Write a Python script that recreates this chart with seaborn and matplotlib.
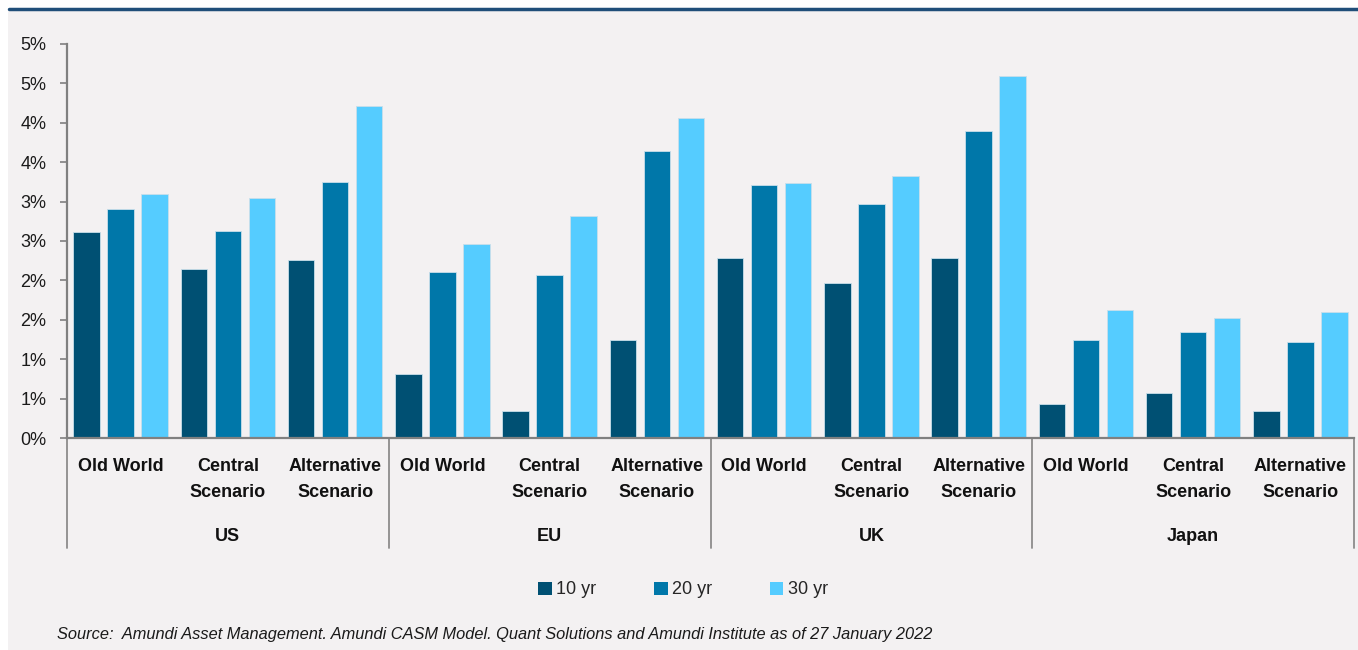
import numpy as np
import pandas as pd
import matplotlib
matplotlib.use("Agg")
import matplotlib.pyplot as plt
import seaborn as sns
from matplotlib.patches import Rectangle
from matplotlib.lines import Line2D

# Data (% per year)
countries = ["US", "EU", "UK", "Japan"]
scenarios = ["Old World", "Central\nScenario", "Alternative\nScenario"]
horizons = ["10 yr", "20 yr", "30 yr"]

yr10 = [2.61, 2.14, 2.26, 0.82, 0.34, 1.24, 2.29, 1.97, 2.28, 0.43, 0.57, 0.35]
yr20 = [2.90, 2.63, 3.25, 2.11, 2.07, 3.64, 3.21, 2.97, 3.89, 1.24, 1.35, 1.22]
yr30 = [3.10, 3.05, 4.21, 2.46, 2.82, 4.06, 3.24, 3.32, 4.59, 1.63, 1.52, 1.60]

ytick_vals = [0, 0.5, 1.0, 1.5, 2.0, 2.5, 3.0, 3.5, 4.0, 4.5, 5.0]
ytick_labels = ["0%", "1%", "1%", "2%", "2%", "3%", "3%", "4%", "4%", "5%", "5%"]

colors = ["#005073", "#0077A9", "#55CCFF"]
bg = "#F3F1F2"

# Build long table
slots = [f"{c}|{s}" for c in countries for s in scenarios]
rows = []
for h, vals in zip(horizons, [yr10, yr20, yr30]):
    for slot, v in zip(slots, vals):
        rows.append({"slot": slot, "horizon": h, "value": v})
df = pd.DataFrame(rows)

sns.set_style("white")
plt.rcParams["font.family"] = ["Liberation Sans", "DejaVu Sans"]

fig = plt.figure(figsize=(13.58, 6.5), dpi=100)
fig.patch.set_facecolor("white")

# grey panel + top rule
fig.patches.append(Rectangle((8 / 1358, 0), 1, 1 - 10 / 650, transform=fig.transFigure,
                             facecolor=bg, edgecolor="none", zorder=-10))
fig.add_artist(Line2D([9 / 1358, 1], [1 - 9 / 650, 1 - 9 / 650], transform=fig.transFigure,
                      color="#1F4E79", lw=2.5))

ax = fig.add_axes([67 / 1358, 1 - 438.3 / 650, (1354 - 67) / 1358, 394.6 / 650])
ax.set_facecolor(bg)

sns.barplot(data=df, x="slot", y="value", hue="horizon", order=slots,
            hue_order=horizons, palette=colors, saturation=1, width=0.95, gap=0.22,
            edgecolor="#C9DFEA", linewidth=0.6, ax=ax, legend=False)

ax.set_xlim(-0.5, len(slots) - 0.5)
ax.set_ylim(0, 5)
ax.set_yticks(ytick_vals)
ax.set_yticklabels(ytick_labels, fontsize=13, color="#1a1a1a")
ax.set_xticks([])
ax.set_xlabel("")
ax.set_ylabel("")
ax.tick_params(axis="y", length=5, width=1.2, color="#808080", pad=10, left=True)

for side in ["top", "right"]:
    ax.spines[side].set_visible(False)
for side in ["left", "bottom"]:
    ax.spines[side].set_color("#808080")
    ax.spines[side].set_linewidth(1.6)

# group separators below the axis
n = len(scenarios)
for i in range(len(countries) + 1):
    ax.axvline(i * n - 0.5, ymin=-0.278, ymax=0, clip_on=False, color="#8C8C8C", lw=1.3)

# category and country labels
for i, slot in enumerate(slots):
    scen = slot.split("|")[1]
    ax.text(i, -0.051, scen, transform=ax.get_xaxis_transform(), ha="center", va="top",
            fontsize=13, fontweight="bold", linespacing=1.65, color="#111111")
for j, c in enumerate(countries):
    ax.text(j * n + (n - 1) / 2, -0.25, c, transform=ax.get_xaxis_transform(),
            ha="center", va="center", fontsize=13, fontweight="bold", color="#111111")

# legend
handles = [Rectangle((0, 0), 1, 1, facecolor=col, edgecolor="none") for col in colors]
fig.legend(handles, horizons, loc="center", bbox_to_anchor=(0.503, 1 - 590 / 650), ncol=3,
           frameon=False, fontsize=13, handlelength=0.75, handleheight=0.75,
           handletextpad=0.25, columnspacing=3.2)

fig.text(57 / 1358, 1 - 634 / 650,
         "Source:  Amundi Asset Management. Amundi CASM Model. Quant Solutions and Amundi Institute as of 27 January 2022",
         ha="left", va="center", fontsize=11.8, style="italic", color="#1a1a1a")

fig.savefig("out.png", dpi=100, facecolor=fig.get_facecolor())
